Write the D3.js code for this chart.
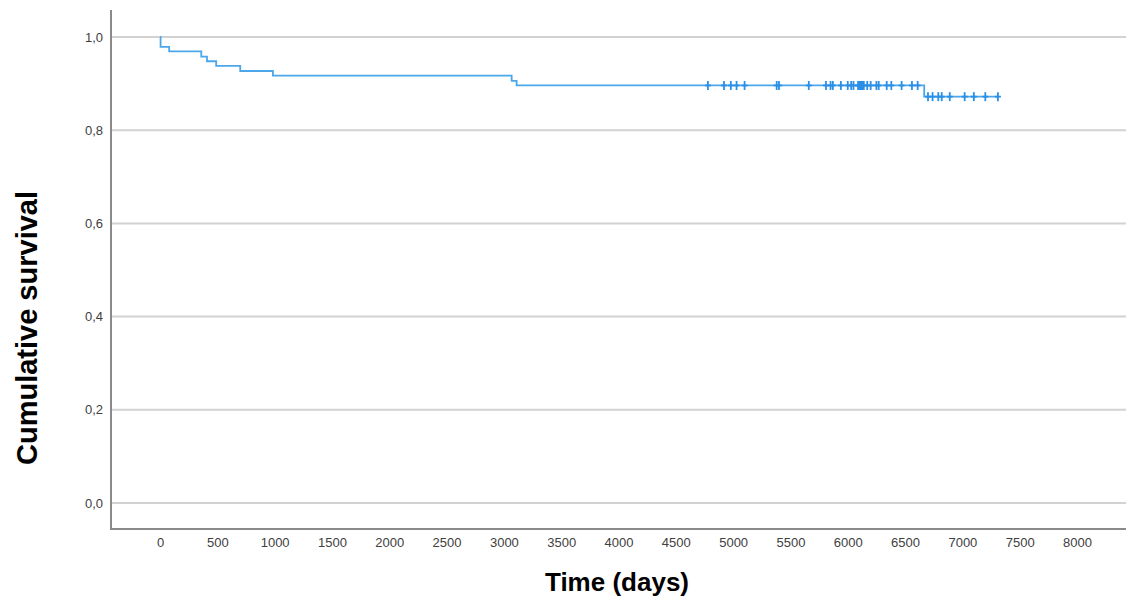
<!DOCTYPE html>
<html>
<head>
<meta charset="utf-8">
<script src="https://cdn.jsdelivr.net/npm/d3@7"></script>
<style>
  html, body { margin: 0; padding: 0; background: #fff; }
  svg { display: block; font-family: "Liberation Sans", Arial, sans-serif; }
</style>
</head>
<body>
<svg id="chart" width="1126" height="605"></svg>
<script>
// Kaplan-Meier step points (time in days, cumulative survival)
const stepTimes = [0, 5, 80, 360, 410, 490, 700, 985, 3068, 3111, 6667];
const stepSurvival = [1.0, 0.979, 0.969, 0.958, 0.948, 0.938, 0.927, 0.917, 0.906, 0.896, 0.872];
const lastTime = 7312;
// Censored observations (days)
const censorTimes = [4780, 4920, 4980, 5030, 5100, 5380, 5400, 5660, 5810, 5850, 5870, 5940,
  6000, 6030, 6050, 6090, 6100, 6110, 6120, 6130, 6140, 6170, 6200, 6250, 6270, 6340, 6380,
  6470, 6560, 6610, 6700, 6740, 6790, 6820, 6890, 7020, 7100, 7200, 7310];
const xTicks = [0, 500, 1000, 1500, 2000, 2500, 3000, 3500, 4000, 4500, 5000, 5500, 6000, 6500, 7000, 7500, 8000];
const yTicks = [0, 0.2, 0.4, 0.6, 0.8, 1.0];

const svg = d3.select("#chart");
const x = d3.scaleLinear().domain([0, 8000]).range([160, 1077]);
const y = d3.scaleLinear().domain([0, 1]).range([503, 37]);

const axisLeftX = 111, axisBottomY = 529, rightX = 1126, topY = 10;

// gridlines
svg.append("g").selectAll("line").data(yTicks).join("line")
  .attr("x1", axisLeftX).attr("x2", rightX)
  .attr("y1", d => y(d)).attr("y2", d => y(d))
  .attr("stroke", "#d2d2d2").attr("stroke-width", 2);

// y axis
const yAxis = d3.axisLeft(y).tickValues(yTicks).tickSize(0).tickPadding(8)
  .tickFormat(d => d3.format(".1f")(d).replace(".", ","));
const gy = svg.append("g").attr("transform", `translate(${axisLeftX},0)`).call(yAxis);
gy.select(".domain").remove();
gy.selectAll("text").attr("font-size", 13).attr("fill", "#404040")
  .attr("font-family", "Liberation Sans, Arial, sans-serif");

// x axis
const xAxis = d3.axisBottom(x).tickValues(xTicks).tickSize(0).tickPadding(9).tickFormat(d3.format("d"));
const gx = svg.append("g").attr("transform", `translate(0,${axisBottomY})`).call(xAxis);
gx.select(".domain").remove();
gx.selectAll("text").attr("font-size", 13).attr("fill", "#404040")
  .attr("font-family", "Liberation Sans, Arial, sans-serif");

// axis lines
svg.append("line").attr("x1", axisLeftX).attr("x2", axisLeftX).attr("y1", topY).attr("y2", axisBottomY)
  .attr("stroke", "#8a8a8a").attr("stroke-width", 2);
svg.append("line").attr("x1", axisLeftX - 1).attr("x2", rightX).attr("y1", axisBottomY).attr("y2", axisBottomY)
  .attr("stroke", "#8a8a8a").attr("stroke-width", 2);

// survival step line
const pts = stepTimes.map((t, i) => [t, stepSurvival[i]]);
pts.push([lastTime, stepSurvival[stepSurvival.length - 1]]);
const line = d3.line().x(d => x(d[0])).y(d => y(d[1])).curve(d3.curveStepAfter);
svg.append("path").datum(pts).attr("d", line)
  .attr("fill", "none").attr("stroke", "#4ba6ea").attr("stroke-width", 1.8);

// censor marks
function survAt(t) {
  let s = stepSurvival[0];
  for (let i = 0; i < stepTimes.length; i++) if (stepTimes[i] <= t) s = stepSurvival[i];
  return s;
}
const cg = svg.append("g").attr("stroke", "#2a8fe6").attr("stroke-width", 1.8);
censorTimes.forEach(t => {
  const cx = x(t), cy = y(survAt(t));
  cg.append("line").attr("x1", cx).attr("x2", cx).attr("y1", cy - 4.5).attr("y2", cy + 4.5);
  cg.append("line").attr("x1", cx - 3).attr("x2", cx + 3).attr("y1", cy).attr("y2", cy);
});

// titles
svg.append("text").attr("x", 617).attr("y", 591).attr("text-anchor", "middle")
  .attr("font-size", 26).attr("font-weight", "bold").attr("fill", "#000").text("Time (days)");
svg.append("text").attr("transform", "translate(37,328) rotate(-90)").attr("text-anchor", "middle")
  .attr("font-size", 29).attr("font-weight", "bold").attr("fill", "#000").text("Cumulative survival");
</script>
</body>
</html>
